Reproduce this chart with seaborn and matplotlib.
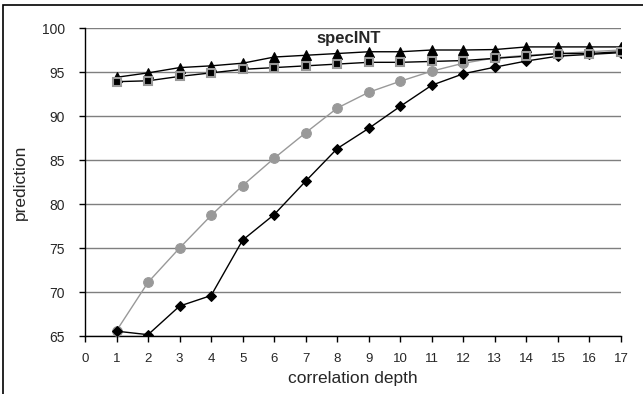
import matplotlib
matplotlib.use("Agg")
import matplotlib.pyplot as plt
import seaborn as sns
import pandas as pd
from matplotlib.patches import Rectangle

depth = list(range(1, 18))
tri = [94.4, 94.9, 95.5, 95.7, 96.0, 96.7, 96.9, 97.1, 97.3, 97.3, 97.5, 97.5, 97.55, 97.85, 97.85, 97.85, 97.85]
square = [93.9, 94.0, 94.5, 94.9, 95.3, 95.5, 95.7, 95.9, 96.1, 96.1, 96.2, 96.3, 96.55, 96.8, 97.1, 97.1, 97.3]
circle = [65.6, 71.1, 75.0, 78.7, 82.1, 85.2, 88.1, 90.9, 92.7, 93.95, 95.1, 96.0, 96.6, 96.9, 97.1, 97.3, 97.5]
diamond = [65.55, 65.15, 68.4, 69.6, 75.9, 78.8, 82.6, 86.3, 88.6, 91.1, 93.5, 94.8, 95.55, 96.25, 96.8, 97.0, 97.2]
yticks = [65, 70, 75, 80, 85, 90, 95, 100]
xticks = list(range(0, 18))
title = "specINT"

sns.set_theme(style="white")
plt.rcParams['font.family'] = ['Liberation Sans', 'DejaVu Sans']

fig = plt.figure(figsize=(6.43, 3.94), dpi=100)
ax = fig.add_axes([85/643, 1-336/394, (621-85)/643, (336-28)/394])

for y in yticks:
    ax.axhline(y, color="#7f7f7f", lw=1.0, zorder=0, xmin=0, xmax=1)

df = pd.DataFrame({"x": depth, "tri": tri, "sq": square, "ci": circle, "di": diamond})

sns.lineplot(data=df, x="x", y="ci", ax=ax, color="#999999", lw=1.0, marker="o",
             markersize=7, markerfacecolor="#999999", markeredgecolor="#999999", zorder=3)
sns.lineplot(data=df, x="x", y="di", ax=ax, color="black", lw=1.0, marker="D",
             markersize=5, markerfacecolor="black", markeredgecolor="black", zorder=4)
sns.lineplot(data=df, x="x", y="tri", ax=ax, color="black", lw=1.0, marker="^",
             markersize=7, markerfacecolor="black", markeredgecolor="black", zorder=5)
sns.lineplot(data=df, x="x", y="sq", ax=ax, color="black", lw=1.0, marker="s",
             markersize=5.5, markerfacecolor="black", markeredgecolor="#999999",
             markeredgewidth=1.5, zorder=6)

ax.set_xlim(0, 17)
ax.set_ylim(65, 100)
ax.set_xticks(xticks)
ax.set_yticks(yticks)
ax.set_xticklabels([str(t) for t in xticks], fontsize=9.5)
ax.set_yticklabels([str(t) for t in yticks], fontsize=10)
ax.tick_params(axis="both", direction="out", length=4.5, width=1, color="black",
               bottom=True, left=True)
ax.tick_params(axis="x", pad=8)
ax.tick_params(axis="y", pad=10)
for s in ["top", "right"]:
    ax.spines[s].set_visible(False)
for s in ["left", "bottom"]:
    ax.spines[s].set_color("black")
    ax.spines[s].set_linewidth(1.0)
ax.set_xlabel("correlation depth", fontsize=12.5, labelpad=4)
ax.set_ylabel("prediction", fontsize=12.5, labelpad=10)
ax.text(8.35, 98.85, title, fontsize=12, fontweight="bold", ha="center", va="center")

fig.patches.append(Rectangle((3/643, -0.05), 1.1, 1 - 5/394 + 0.05, transform=fig.transFigure,
                             fill=False, edgecolor="black", lw=1.2))

fig.savefig("out.png", dpi=100)
